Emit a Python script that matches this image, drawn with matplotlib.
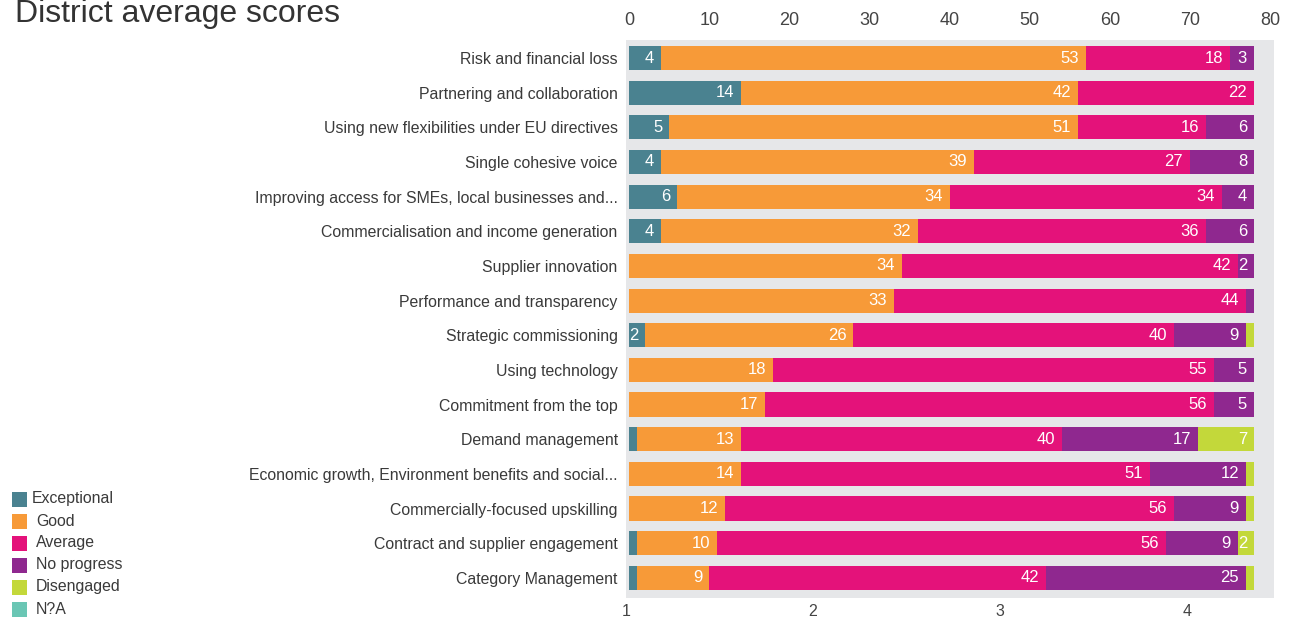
import matplotlib
matplotlib.use("Agg")
import matplotlib.pyplot as plt
from matplotlib.patches import Rectangle

plt.rcParams['font.family'] = ['Liberation Sans', 'DejaVu Sans']
NARROW = ['Liberation Sans Narrow', 'Liberation Sans', 'DejaVu Sans']

categories = [
    "Risk and financial loss",
    "Partnering and collaboration",
    "Using new flexibilities under EU directives",
    "Single cohesive voice",
    "Improving access for SMEs, local businesses and...",
    "Commercialisation and income generation",
    "Supplier innovation",
    "Performance and transparency",
    "Strategic commissioning",
    "Using technology",
    "Commitment from the top",
    "Demand management",
    "Economic growth, Environment benefits and social...",
    "Commercially-focused upskilling",
    "Contract and supplier engagement",
    "Category Management",
]

exceptional = [4, 14, 5, 4, 6, 4, 0, 0, 2, 0, 0, 1, 0, 0, 1, 1]
good = [53, 42, 51, 39, 34, 32, 34, 33, 26, 18, 17, 13, 14, 12, 10, 9]
average = [18, 22, 16, 27, 34, 36, 42, 44, 40, 55, 56, 40, 51, 56, 56, 42]
no_progress = [3, 0, 6, 8, 4, 6, 2, 1, 9, 5, 5, 17, 12, 9, 9, 25]
disengaged = [0, 0, 0, 0, 0, 0, 0, 0, 1, 0, 0, 7, 1, 1, 2, 1]
not_applicable = [0] * 16

series_names = ["Exceptional", "Good", "Average", "No progress", "Disengaged", "N?A"]
series_values = [exceptional, good, average, no_progress, disengaged, not_applicable]
series_colors = ["#4a8290", "#f79a38", "#e4127a", "#8f288f", "#c3d83a", "#6ac6b4"]

top_ticks = [0, 10, 20, 30, 40, 50, 60, 70, 80]
bottom_ticks = [1, 2, 3, 4]

W, H = 1294, 619
fig = plt.figure(figsize=(W / 100, H / 100), dpi=100)
fig.patch.set_facecolor("white")

ax = fig.add_axes([626 / W, 1 - 598 / H, (1274 - 626) / W, (598 - 40) / H])
ax.set_facecolor("#e6e7e9")

ypos = list(range(len(categories)))
left = [0] * len(categories)
for name, vals, col in zip(series_names, series_values, series_colors):
    ax.barh(ypos, vals, left=left, height=0.7, color=col, edgecolor="none", label=name)
    for y, l, v in zip(ypos, left, vals):
        if v >= 2:
            ax.annotate(str(v), xy=(l + v, y), xytext=(-5, 0), textcoords="offset points",
                        ha="right", va="center", color="white", fontsize=12, family=NARROW)
    left = [a + b for a, b in zip(left, vals)]

ax.set_xlim(-0.4, 80.5)
ax.set_ylim(len(categories) - 1 + 0.58, -0.52)
ax.set_yticks(ypos)
ax.set_yticklabels(categories)
ax.tick_params(axis="y", length=0, pad=6, labelsize=11.4, labelcolor="#3a3a3a")
for s in ax.spines.values():
    s.set_visible(False)

# secondary scale along the bottom edge
ax2 = ax.twiny()
ax2.set_xlim(1, 4.465)
ax2.set_xticks(bottom_ticks)
ax2.xaxis.tick_bottom()
ax2.tick_params(axis="x", length=0, pad=4, labelsize=11.5, labelcolor="#444444")
for lbl in ax2.get_xticklabels():
    lbl.set_family(NARROW)
for s in ax2.spines.values():
    s.set_visible(False)

# primary scale along the top edge
ax.xaxis.tick_top()
ax.set_xticks(top_ticks)
ax.tick_params(axis="x", length=0, pad=8, labelsize=13, labelcolor="#444444")
for lbl in ax.get_xticklabels():
    lbl.set_family(NARROW)

fig.text(15 / W, 1 - 22 / H, "District average scores", fontsize=23, color="#333333",
         va="baseline", ha="left")

# legend block in the lower-left corner
for i, (name, col) in enumerate(zip(series_names, series_colors)):
    yc = 499 + 22 * i
    fig.patches.append(Rectangle((12 / W, 1 - (yc + 7.5) / H), 15 / W, 15 / H,
                                 transform=fig.transFigure, facecolor=col, edgecolor="none"))
    fig.text((32 if i == 0 else 36) / W, 1 - yc / H, name, fontsize=11.4, color="#3a3a3a",
             va="center", ha="left")

fig.savefig("out.png", dpi=100)
